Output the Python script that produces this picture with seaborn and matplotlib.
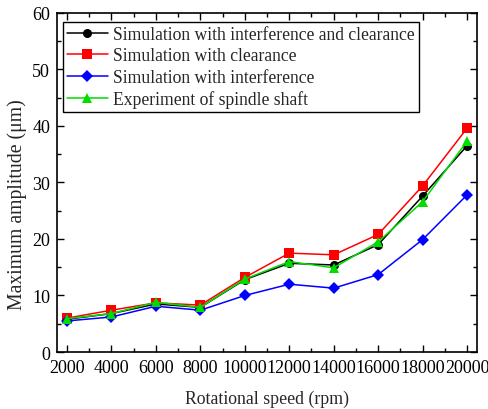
import numpy as np
import pandas as pd
import matplotlib
matplotlib.use("Agg")
import matplotlib.pyplot as plt
import seaborn as sns
from matplotlib.ticker import MultipleLocator

speeds = [2000, 4000, 6000, 8000, 10000, 12000, 14000, 16000, 18000, 20000]
sim_both = [5.8, 6.8, 8.5, 7.9, 12.8, 15.7, 15.4, 19.0, 27.6, 36.5]
sim_clear = [6.0, 7.4, 8.7, 8.3, 13.2, 17.5, 17.2, 20.8, 29.4, 39.6]
sim_interf = [5.5, 6.2, 8.1, 7.4, 10.0, 12.0, 11.3, 13.7, 19.9, 27.8]
experiment = [5.9, 6.8, 8.8, 7.9, 12.9, 16.0, 14.9, 19.5, 26.6, 37.3]

names = ["Simulation with interference and clearance",
         "Simulation with clearance",
         "Simulation with interference",
         "Experiment of spindle shaft"]
series = [sim_both, sim_clear, sim_interf, experiment]

df = pd.DataFrame({
    "speed": speeds * 4,
    "amp": sum(series, []),
    "series": [n for n in names for _ in speeds],
})

sns.set_style("white")
plt.rcParams["font.family"] = ["Liberation Serif", "DejaVu Serif"]
plt.rcParams["mathtext.fontset"] = "stix"

fig = plt.figure(figsize=(4.89, 4.10), dpi=100)
ax = fig.add_axes([0.1166, 0.139, 0.859, 0.827])

palette = dict(zip(names, ["#000000", "#ff0000", "#0000ff", "#00dd00"]))
markers = dict(zip(names, ["o", "s", "D", "^"]))
sizes_m = [6.5, 6.5, 6.0, 7.5]
for n, ms in zip(names, sizes_m):
    sub = df[df["series"] == n]
    sns.lineplot(data=sub, x="speed", y="amp", ax=ax, color=palette[n],
                 marker=markers[n], markersize=ms, markeredgewidth=0,
                 linewidth=1.1, label=n)

ax.set_xlim(1550, 20450)
ax.set_ylim(0, 60)
ax.xaxis.set_major_locator(MultipleLocator(2000))
ax.xaxis.set_minor_locator(MultipleLocator(1000))
ax.yaxis.set_major_locator(MultipleLocator(10))
ax.yaxis.set_minor_locator(MultipleLocator(5))
ax.tick_params(which="both", direction="in", top=True, right=True,
               bottom=True, left=True, labelsize=13, colors="black")
ax.tick_params(which="major", length=5, width=1, pad=5)
ax.tick_params(which="minor", length=3, width=1)
for s in ax.spines.values():
    s.set_color("black")
    s.set_linewidth(1.2)

ax.set_xlabel("Rotational speed (rpm)", fontsize=12.8, labelpad=10)
ax.set_ylabel("Maximum amplitude (μm)", fontsize=14.2)
ax.yaxis.set_label_coords(-0.072, 0.437)

leg = ax.legend(loc="upper left", bbox_to_anchor=(0.005, 0.985), fontsize=12.7,
                frameon=True, fancybox=False, edgecolor="black",
                handlelength=2.3, handletextpad=0.3, borderpad=0.25,
                labelspacing=0.25, borderaxespad=0.2)
leg.get_frame().set_linewidth(1.0)
leg.get_frame().set_alpha(1)

fig.savefig("out.png", dpi=100)
